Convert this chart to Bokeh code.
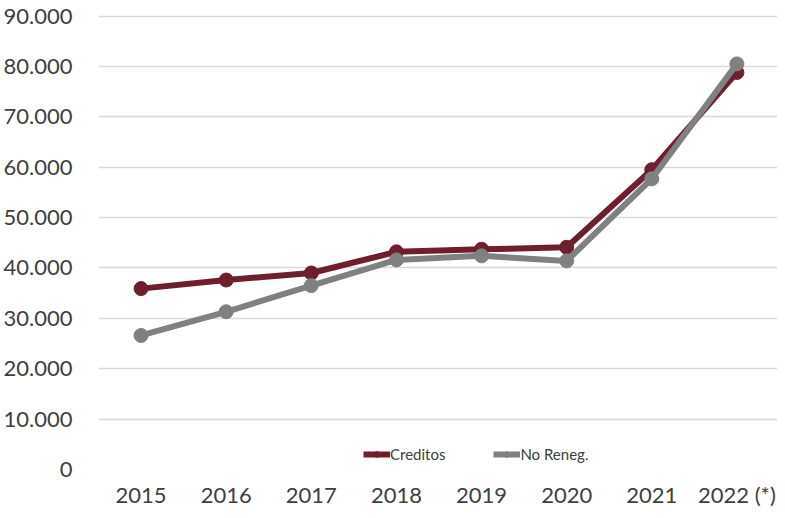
from bokeh.plotting import figure
from bokeh.models import FixedTicker, Range1d, Legend, LegendItem
from bokeh.embed import file_html
from bokeh.resources import INLINE

years = ["2015", "2016", "2017", "2018", "2019", "2020", "2021", "2022 (*)"]
creditos = [35900, 37600, 39000, 43200, 43700, 44100, 59500, 78800]
no_reneg = [26600, 31300, 36500, 41600, 42400, 41400, 57700, 80500]
y_ticks = [0, 10000, 20000, 30000, 40000, 50000, 60000, 70000, 80000, 90000]
y_labels = ["0", "10.000", "20.000", "30.000", "40.000", "50.000", "60.000", "70.000", "80.000", "90.000"]

xs = list(range(len(years)))

p = figure(width=777, height=510, output_backend="svg", toolbar_location=None,
           x_range=Range1d(-0.5, 7.477), y_range=Range1d(0, 90500),
           min_border_left=91, min_border_right=0, min_border_top=13, min_border_bottom=35)
p.outline_line_color = None
p.background_fill_color = "white"

maroon = "#6E1F2D"
gray = "#808080"

l1 = p.line(xs, creditos, line_color=maroon, line_width=6)
c1 = p.scatter(xs, creditos, size=14, fill_color=maroon, line_color=maroon)
l2 = p.line(xs, no_reneg, line_color=gray, line_width=6)
c2 = p.scatter(xs, no_reneg, size=14, fill_color=gray, line_color=gray)

p.xgrid.grid_line_color = None
p.ygrid.grid_line_color = "#D9D9D9"
p.ygrid.grid_line_width = 1.5
p.ygrid.ticker = FixedTicker(ticks=y_ticks)

p.xaxis.ticker = FixedTicker(ticks=xs)
p.xaxis.major_label_overrides = {i: y for i, y in enumerate(years)}
p.yaxis.ticker = FixedTicker(ticks=y_ticks)
p.yaxis.major_label_overrides = {t: l for t, l in zip(y_ticks, y_labels)}

for ax in (p.xaxis[0], p.yaxis[0]):
    ax.axis_line_color = None
    ax.major_tick_line_color = None
    ax.minor_tick_line_color = None
    ax.major_label_text_font = "Lato"
    ax.major_label_text_font_size = "22px"
    ax.major_label_text_color = "#404040"
p.yaxis.major_label_standoff = 20
p.xaxis.major_label_standoff = 5

legend = Legend(items=[LegendItem(label="Creditos", renderers=[l1, c1]),
                       LegendItem(label="No Reneg.", renderers=[l2, c2])],
                orientation="horizontal", location=(265, 6),
                label_text_font="Lato", label_text_font_size="15px",
                label_text_color="#404040", glyph_width=27, glyph_height=14,
                spacing=48, padding=0, margin=0, label_standoff=0,
                background_fill_alpha=0, border_line_color=None)
p.add_layout(legend)

open("out.html", "w").write(file_html(p, INLINE))
